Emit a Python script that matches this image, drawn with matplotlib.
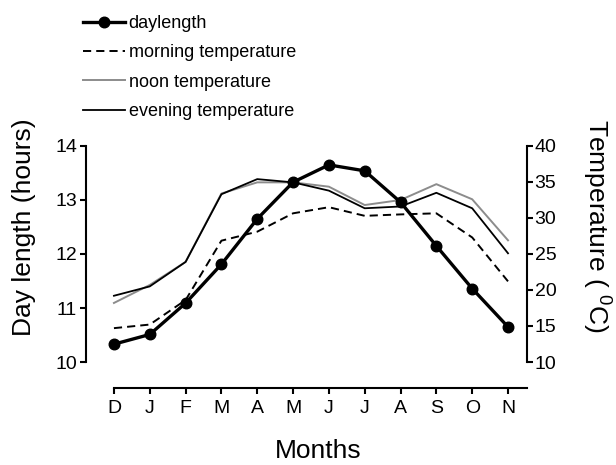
import matplotlib
matplotlib.use("Agg")
import matplotlib.pyplot as plt

plt.rcParams['font.family'] = ['Liberation Sans', 'DejaVu Sans']
plt.rcParams['mathtext.default'] = 'regular'

months = ["D", "J", "F", "M", "A", "M", "J", "J", "A", "S", "O", "N"]
daylength = [10.33, 10.51, 11.09, 11.81, 12.65, 13.33, 13.65, 13.54, 12.96, 12.15, 11.36, 10.65]
morning = [14.7, 15.2, 18.6, 26.85, 28.1, 30.65, 31.5, 30.3, 30.5, 30.65, 27.3, 21.2]
noon = [18.2, 20.7, 23.9, 33.4, 34.95, 34.95, 34.35, 31.8, 32.5, 34.7, 32.6, 26.9]
evening = [19.2, 20.5, 23.9, 33.3, 35.4, 34.95, 33.8, 31.35, 31.6, 33.5, 31.35, 25.1]
left_ticks = [10, 11, 12, 13, 14]
right_ticks = [10, 15, 20, 25, 30, 35, 40]

W, H = 616, 465
fig = plt.figure(figsize=(W / 100, H / 100), dpi=100)
ax = fig.add_axes([86 / W, (H - 362) / H, (527 - 86) / W, (362 - 146) / H])
ax2 = ax.twinx()

x = list(range(len(months)))
xl, xr = -0.78, 11.53

l2, = ax2.plot(x, morning, color='black', lw=1.4, dashes=(4.2, 2.6), label='morning temperature')
l3, = ax2.plot(x, noon, color='#8c8c8c', lw=1.4, label='noon temperature')
l4, = ax2.plot(x, evening, color='black', lw=1.3, label='evening temperature')
l1, = ax.plot(x, daylength, color='black', lw=2.4, marker='o', ms=7.6, label='daylength')

ax.set_zorder(ax2.get_zorder() + 1)
ax.patch.set_visible(False)

ax.set_xlim(xl, xr)
ax.set_ylim(10, 14)
ax2.set_ylim(10, 40)
ax.set_xticks(x)
ax.set_xticklabels(months)
ax.set_yticks(left_ticks)
ax2.set_yticks(right_ticks)

for s in ['top', 'right']:
    ax.spines[s].set_visible(False)
for s in ['top', 'left', 'bottom']:
    ax2.spines[s].set_visible(False)
ax.spines['bottom'].set_position(('outward', 26 * 0.72))
ax.spines['bottom'].set_bounds(0, xr)
for sp in [ax.spines['left'], ax.spines['bottom'], ax2.spines['right']]:
    sp.set_linewidth(1.5)

ax.tick_params(axis='both', direction='out', length=4.5, width=1.5, labelsize=14, pad=2)
ax.tick_params(axis='x', pad=4)
ax2.tick_params(axis='y', direction='out', length=4.5, width=1.5, labelsize=14, pad=1)

fig.text(24.5 / W, 1 - 227.5 / H, 'Day length (hours)', rotation=90, ha='center', va='center', fontsize=19)
fig.text(596.5 / W, 1 - 226 / H, 'Temperature ( $^0$C)', rotation=270, ha='center', va='center', fontsize=19)
fig.text(318 / W, 1 - 458 / H, 'Months', ha='center', va='baseline', fontsize=19)

fig.legend(handles=[l1, l2, l3, l4], loc='upper left', bbox_to_anchor=(83 / W, 1 - 15 / H),
           frameon=False, fontsize=13, handlelength=2.33, handletextpad=0.2,
           labelspacing=0.68, borderaxespad=0, borderpad=0)

fig.savefig('out.png', dpi=100)
